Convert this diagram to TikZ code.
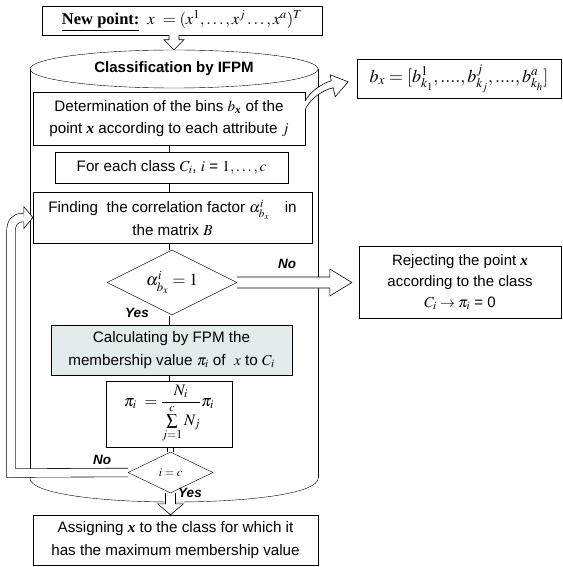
\documentclass[tikz,border=0pt]{standalone}
\usepackage{amsmath}
\usepackage{mathptmx}
\usepackage[no-math]{fontspec}
\setmainfont{Liberation Sans}
\newfontfamily\timesfont{Liberation Serif}
\usetikzlibrary{shapes.geometric,calc}
\definecolor{calcfill}{RGB}{226,236,236}
\newcommand{\ptx}{\text{\timesfont\bfseries\itshape x}}

\begin{document}
\begin{tikzpicture}[x=1pt,y=-1pt,
  box/.style={draw, fill=white, align=center, inner sep=0pt, font=\fontsize{15.2}{22.5}\selectfont},
  choice/.style={draw, diamond, aspect=2, fill=white, inner sep=0pt},
  link/.style={double, double distance=5pt, line width=0.6pt, shorten <=0.3pt, shorten >=0.3pt},
  hollow/.style={draw, fill=white, line width=0.6pt},
  answer/.style={font=\fontsize{13.5}{15}\selectfont\bfseries\itshape}]
\useasboundingbox (0,0) rectangle (562,567);

% Input point
\node[box, minimum width=280pt, minimum height=29pt, font=\fontsize{16.5}{18}\selectfont] (newpt) at (182,20.5)
  {{\timesfont\bfseries\underline{New point:}}\hspace{8pt}$x\ =(x^{1},\ldots,x^{j}\ldots,x^{a})^{T}$};

% Classification by IFPM
\node[ellipse, draw, minimum width=288pt, minimum height=38pt, inner sep=0pt, font=\fontsize{15}{17}\selectfont\bfseries] (clsf) at (174,69) {Classification by IFPM};
\node[box, minimum width=272pt, minimum height=53pt] (det) at (169,118.5)
  {Determination of the bins $b_{\ptx}$ of the\\ point $\ptx$ according to each attribute $j$};
\node[box, minimum width=233pt, minimum height=31pt] (each) at (171.5,167.5) {For each class $C_i$, $i$ = $1,\ldots,c$};
\node[box, minimum width=279pt, minimum height=51pt] (find) at (172.5,217.5)
  {Finding\ \ the correlation factor $\alpha^{i}_{b_x}$\quad in\\ the matrix $B$};
\node[choice, minimum width=130pt, minimum height=65pt, font=\fontsize{17}{19}\selectfont] (check) at (172,282.5) {$\alpha^{i}_{b_x} =1$};
\node[box, fill=calcfill, minimum width=241pt, minimum height=50pt] (fpm) at (171.5,350)
  {Calculating by FPM the\\ membership value $\pi_i$ of\ \ $x$ to $C_i$};
\node[box, minimum width=126pt, minimum height=66pt, font=\fontsize{16}{18}\selectfont] (norm) at (169,414)
  {$\displaystyle\pi_{i}\ =\frac{N_{i}}{\sum\limits_{j=1}^{c}N_{j}}\pi_{i}$};
\node[choice, minimum width=85pt, minimum height=41pt, font=\fontsize{12}{14}\selectfont] (last) at (170.5,472.5) {$i=c$};
\node[box, minimum width=285pt, minimum height=50pt] (assign) at (175.5,540)
  {Assigning $\ptx$ to the class for which it\\ has the maximum membership value};

% Right-hand boxes
\node[box, minimum width=204pt, minimum height=39pt, font=\fontsize{18}{20}\selectfont] (bins) at (459,78.5)
  {$b_x =[b^{1}_{k_1},....,b^{j}_{k_j},....,b^{a}_{k_h}]$};
\node[box, minimum width=202pt, minimum height=72pt, font=\fontsize{15}{21}\selectfont] (reject) at (460,282)
  {Rejecting the point $\ptx$\\ according to the class\\ $C_i\rightarrow\pi_i$ = 0};

% Yes / No
\node[answer] (no1) at (287,264) {No};
\node[answer] (yes1) at (137,313) {Yes};
\node[answer] (no2) at (102,460) {No};
\node[answer] (yes2) at (190,493) {Yes};

% links
\draw[link] (det.south -| check) -- (each.north -| check);
\draw[link] (each.south -| check) -- (find.north -| check);
\draw[link] (find.south -| check) -- (check.north);
\draw[link] (check.south) -- (fpm.north -| check);
\draw[link] (fpm.south -| check) -- (norm.north -| check);
\draw[link] (norm.south -| last) -- (last.north);

% cylinder
\draw (clsf.west) -- ++(0,409) coordinate (cylsw);
\draw (clsf.east) -- ++(0,409) coordinate (cylse);
\draw (cylsw) .. controls +(0,32) and +(0,32) .. (cylse);

% loop back
\draw[line width=0.6pt, double, double distance=8pt] (last.west) -- (11,473) -- (11,232)
  .. controls (11,222) and (15,217.5) .. ($(find.west)+(-9,0)$);
\draw[hollow] ($(find.west)+(-9,-4.3)$) -- ++(0,-6.7) -- (find.west) -- ($(find.west)+(-9,11)$) -- ++(0,-6.7);

% hollow arrows
\draw[hollow] let \p1=(clsf.north), \p2=(newpt.south) in
  (\x1-5pt,\y2) -- (\x1-5pt,\y1+10pt) -- (\x1-10pt,\y1+10pt) -- (\x1,\y1)
  -- (\x1+10pt,\y1+10pt) -- (\x1+5pt,\y1+10pt) -- (\x1+5pt,\y2);
\draw[hollow] let \p1=(last.south), \p2=(assign.north) in
  (\x1-5pt,\y1) -- (\x1-5pt,\y2+11pt) -- (\x1-13pt,\y2+11pt) -- (\x1,\y2)
  -- (\x1+13pt,\y2+11pt) -- (\x1+5pt,\y2+11pt) -- (\x1+5pt,\y1);
\draw[hollow] let \p1=(check.east), \p2=(reject.west) in
  (\x1,\y1+5.5pt) -- (\x2-29pt,\y1+5.5pt) -- (\x2-29pt,\y1+13.5pt) -- (\x2-7pt,\y1)
  -- (\x2-29pt,\y1-13.5pt) -- (\x2-29pt,\y1-5.5pt) -- (\x1,\y1-5.5pt);
\begin{scope}[shift={(det.north east)}]
\draw[hollow] (0,9) .. controls +(5,-9) and +(-10,3) .. (26,-11) -- (25,-17) -- (43,-10)
  -- (30,5) -- (28,-4) .. controls +(-11,2) and +(3,-9) .. (0,18);
\end{scope}
\end{tikzpicture}
\end{document}
